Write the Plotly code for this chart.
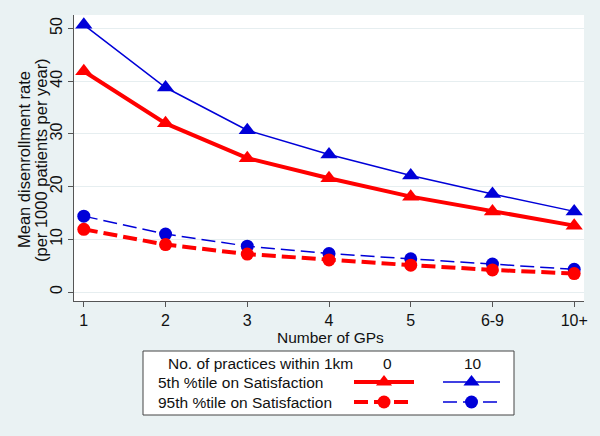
import plotly.graph_objects as go

categories = ["1", "2", "3", "4", "5", "6-9", "10+"]
tri_0 = [41.9, 32.0, 25.4, 21.6, 18.1, 15.3, 12.6]     # 5th %tile, 0 practices
tri_10 = [50.7, 38.8, 30.7, 26.1, 22.1, 18.6, 15.3]    # 5th %tile, 10 practices
dot_0 = [11.9, 9.0, 7.2, 6.1, 5.1, 4.2, 3.5]           # 95th %tile, 0 practices
dot_10 = [14.4, 11.0, 8.7, 7.3, 6.3, 5.3, 4.3]          # 95th %tile, 10 practices

legend_header = "No. of practices within 1km"
legend_cols = ["0", "10"]
legend_rows = ["5th %tile on Satisfaction", "95th %tile on Satisfaction"]
y_title = ["Mean disenrollment rate", "(per 1000 patients per year)"]
x_title = "Number of GPs"

RED = "#FF0000"
BLUE = "#0000D8"
BG = "#EAF2F3"
W, H = 600, 436
FONT = "Liberation Sans, Arial, sans-serif"
TXT = 15.5

def px(x):
    return x / W

def py(y):
    return 1 - y / H

xs = list(range(len(categories)))
fig = go.Figure()
fig.add_trace(go.Scatter(x=xs, y=tri_10, mode="lines+markers",
                         line=dict(color=BLUE, width=1.5),
                         marker=dict(symbol="triangle-up", size=15, color=BLUE)))
fig.add_trace(go.Scatter(x=xs, y=tri_0, mode="lines+markers",
                         line=dict(color=RED, width=4),
                         marker=dict(symbol="triangle-up", size=15, color=RED)))
fig.add_trace(go.Scatter(x=xs, y=dot_10, mode="lines+markers",
                         line=dict(color=BLUE, width=1.5, dash="14px,6px"),
                         marker=dict(symbol="circle", size=13, color=BLUE)))
fig.add_trace(go.Scatter(x=xs, y=dot_0, mode="lines+markers",
                         line=dict(color=RED, width=4, dash="14px,6px"),
                         marker=dict(symbol="circle", size=13, color=RED)))

# Legend keys on a hidden helper axis that spans only the legend box (pixel units)
LX0, LX1, LY0, LY1 = 143, 514, 351, 415
key_styles = [
    [dict(color=RED, width=4, dash="solid"), "triangle-up", RED],
    [dict(color=BLUE, width=1.5, dash="solid"), "triangle-up", BLUE],
    [dict(color=RED, width=4, dash="14px,6px"), "circle", RED],
    [dict(color=BLUE, width=1.5, dash="14px,6px"), "circle", BLUE],
]
key_pos = [(0, 1), (1, 1), (0, 2), (1, 2)]
for (col, row), (ln, sym, c) in zip(key_pos, key_styles):
    x0 = 354 if col == 0 else 443
    x1 = 414 if col == 0 else 500
    yy = 382 if row == 1 else 402
    fig.add_trace(go.Scatter(x=[x0, (x0 + x1) / 2, x1], y=[yy, yy, yy],
                             mode="lines", line=ln, xaxis="x2", yaxis="y2",
                             hoverinfo="skip"))
    fig.add_trace(go.Scatter(x=[(x0 + x1) / 2], y=[yy], mode="markers",
                             marker=dict(symbol=sym, size=13 if sym == "circle" else 14, color=c),
                             xaxis="x2", yaxis="y2", hoverinfo="skip"))

def ann(text, x, y, xanchor="center", size=TXT, **kw):
    return dict(text=text, x=px(x), y=py(y), xref="paper", yref="paper", xanchor=xanchor,
                yanchor="middle", showarrow=False,
                font=dict(size=size, color="#111", family=FONT), **kw)

annotations = [
    ann(legend_header, 260, 363),
    ann(legend_cols[0], 387, 363),
    ann(legend_cols[1], 473, 363),
    ann(legend_rows[0], 156, 382, xanchor="left"),
    ann(legend_rows[1], 156, 402, xanchor="left"),
    ann(x_title, 330, 337),
    ann(y_title[0], 24, 160, size=16.5, textangle=-90),
    ann(y_title[1], 41, 160, size=16.5, textangle=-90),
]

fig.update_layout(
    width=W, height=H,
    margin=dict(l=0, r=0, t=0, b=0),
    paper_bgcolor=BG,
    plot_bgcolor="rgba(0,0,0,0)",
    showlegend=False,
    font=dict(family=FONT, color="#111"),
    xaxis=dict(domain=[px(74), px(584)], anchor="y",
               range=[-0.12, 6.12], tickmode="array", tickvals=xs, ticktext=categories,
               showgrid=False, zeroline=False, showline=True, linecolor="#555", linewidth=1,
               ticks="outside", ticklen=5, tickcolor="#555",
               tickfont=dict(size=16, family=FONT, color="#111"),
               automargin=False, fixedrange=True),
    yaxis=dict(domain=[py(301), py(15)], anchor="x",
               range=[-1.7, 52.56], tickvals=[0, 10, 20, 30, 40, 50], tickangle=-90,
               showgrid=True, gridcolor="#E6EEF0", gridwidth=1, zeroline=False,
               showline=True, linecolor="#555", linewidth=1,
               ticks="outside", ticklen=5, tickcolor="#555",
               tickfont=dict(size=16, family=FONT, color="#111"),
               automargin=False, fixedrange=True),
    xaxis2=dict(domain=[px(LX0), px(LX1)], anchor="y2", range=[LX0, LX1],
                visible=False, fixedrange=True),
    yaxis2=dict(domain=[py(LY1), py(LY0)], anchor="x2", range=[LY1, LY0],
                visible=False, fixedrange=True),
    annotations=annotations,
    shapes=[
        dict(type="rect", xref="paper", yref="paper", x0=px(74), x1=px(584), y0=py(301), y1=py(15),
             fillcolor="white", line=dict(width=0), layer="below"),
        dict(type="rect", xref="paper", yref="paper", x0=px(LX0), x1=px(LX1), y0=py(LY1), y1=py(LY0),
             fillcolor="white", line=dict(color="#444", width=1), layer="below"),
    ],
)

fig.write_html("out.html", config={"displayModeBar": False},
               post_script="document.body.style.margin='0';"
                           "document.body.style.background='" + BG + "';")
